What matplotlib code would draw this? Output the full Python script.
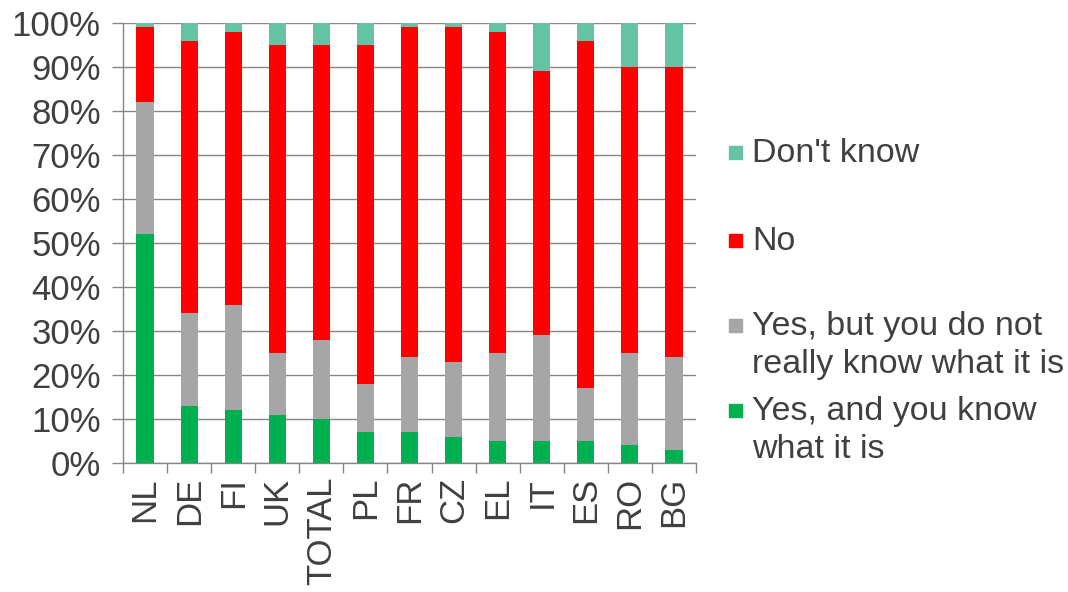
import matplotlib
matplotlib.use('Agg')
import matplotlib.pyplot as plt
import numpy as np
from matplotlib.patches import Rectangle

countries = ['NL', 'DE', 'FI', 'UK', 'TOTAL', 'PL', 'FR', 'CZ', 'EL', 'IT', 'ES', 'RO', 'BG']
yes_know = [52, 13, 12, 11, 10, 7, 7, 6, 5, 5, 5, 4, 3]
yes_not_really = [30, 21, 24, 14, 18, 11, 17, 17, 20, 24, 12, 21, 21]
no = [17, 62, 62, 70, 67, 77, 75, 76, 73, 60, 79, 65, 66]
dont_know = [1, 4, 2, 5, 5, 5, 1, 1, 2, 11, 4, 10, 10]

series = [
    ('Yes, and you know\nwhat it is', yes_know, '#00B050'),
    ('Yes, but you do not\nreally know what it is', yes_not_really, '#A6A6A6'),
    ('No', no, '#FF0000'),
    ("Don't know", dont_know, '#66C2A5'),
]

plt.rcParams['font.family'] = ['Liberation Sans', 'DejaVu Sans']
text_color = '#404040'
grid_color = '#868686'

fig = plt.figure(figsize=(10.68, 5.92), dpi=100)
ax = fig.add_axes([0.1152, 0.2179, 0.5365, 0.7432])

x = np.arange(len(countries))
bottom = np.zeros(len(countries))
for name, vals, color in series:
    ax.bar(x, vals, width=0.39, bottom=bottom, color=color, zorder=3)
    bottom += np.array(vals)

ax.set_xlim(-0.5, len(countries) - 0.5)
ax.set_ylim(0, 100)
ax.set_yticks(np.arange(0, 101, 10))
ax.set_yticklabels([f'{v}%' for v in range(0, 101, 10)], fontsize=25, color=text_color)
ax.yaxis.grid(True, color=grid_color, linewidth=1, zorder=0)

ax.set_xticks(x)
ax.set_xticklabels(countries, rotation=90, fontsize=25, color=text_color)
ax.tick_params(axis='x', which='major', length=0, pad=10)
ax.set_xticks(np.arange(-0.5, len(countries), 1), minor=True)
ax.tick_params(axis='x', which='minor', length=7, color=grid_color, width=1)
ax.tick_params(axis='y', length=8, color=grid_color, width=1, pad=8)

for side in ['top', 'right']:
    ax.spines[side].set_visible(False)
for side in ['left', 'bottom']:
    ax.spines[side].set_color(grid_color)
    ax.spines[side].set_linewidth(1)

# legend drawn by hand to match uneven spacing
legend_rows = [(series[3], 152), (series[2], 240), (series[1], 325), (series[0], 410)]
for (name, vals, color), ypix in legend_rows:
    yf = 1 - ypix / 592
    fig.patches.append(Rectangle((729 / 1068, yf - 7 / 592), 13 / 1068, 13 / 592,
                                 transform=fig.transFigure, color=color, figure=fig))
    fig.text(752 / 1068, yf + 14 / 592, name, fontsize=24.5, color=text_color,
             va='top', ha='left', linespacing=1.3)

fig.savefig('out.png', dpi=100)
